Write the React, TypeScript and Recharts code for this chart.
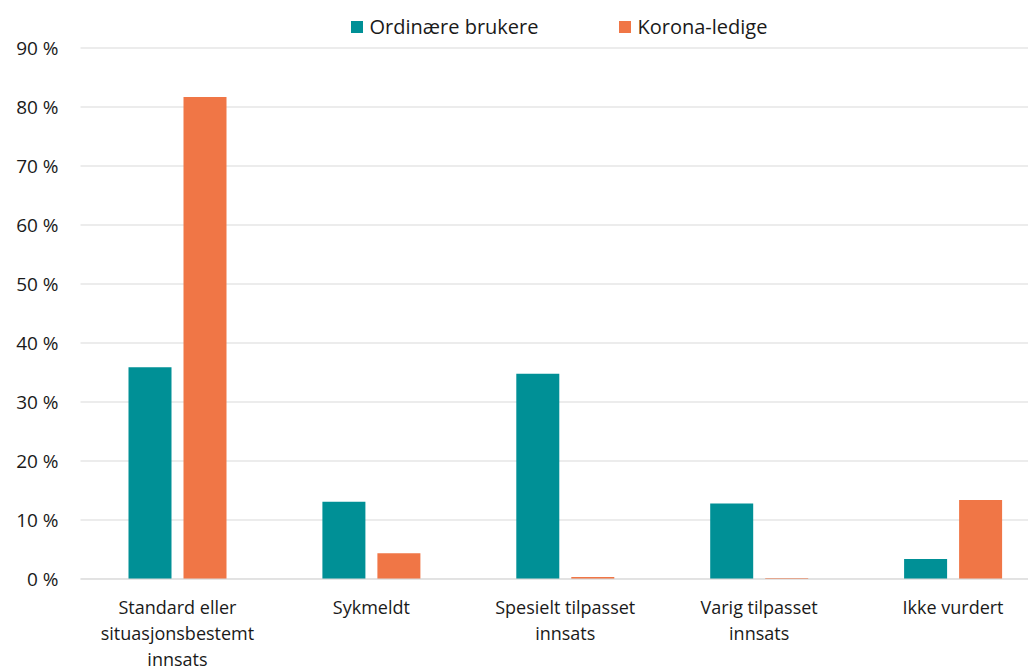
import React from 'react';
import { BarChart, Bar, XAxis, YAxis, CartesianGrid, Legend, Text } from 'recharts';

const categories = [
  'Standard eller situasjonsbestemt innsats',
  'Sykmeldt',
  'Spesielt tilpasset innsats',
  'Varig tilpasset innsats',
  'Ikke vurdert',
];
const ordinaere = [35.9, 13.1, 34.8, 12.8, 3.4];
const korona = [81.7, 4.35, 0.35, 0.15, 13.4];
const yTicks = [0, 10, 20, 30, 40, 50, 60, 70, 80, 90];
const seriesNames = ['Ordinære brukere', 'Korona-ledige'];
const seriesColors = ['#009096', '#F07646'];

const data = categories.map((c, i) => ({ name: c, ord: ordinaere[i], kor: korona[i] }));

const FONT = '"Open Sans", sans-serif';

const XTick = (props: any) => {
  const { x, y, payload } = props;
  return (
    <Text
      x={x}
      y={y + 14}
      width={160}
      textAnchor="middle"
      verticalAnchor="start"
      lineHeight={26}
      fontSize={18}
      fontFamily={FONT}
      style={{ fontSize: 18, fontFamily: FONT }}
      fill="#1a1a1a"
    >
      {payload.value}
    </Text>
  );
};

const LegendContent = () => (
  <div style={{ display: 'flex', justifyContent: 'center', paddingLeft: 60, fontFamily: FONT, fontSize: 20, color: '#1a1a1a', lineHeight: '26px' }}>
    {seriesNames.map((n, i) => (
      <div key={n} style={{ display: 'flex', alignItems: 'center', marginRight: i === 0 ? 80 : 0 }}>
        <span style={{ display: 'inline-block', width: 12, height: 12, background: seriesColors[i], marginRight: 7 }} />
        <span>{n}</span>
      </div>
    ))}
  </div>
);

export default function App() {
  return (
    <div style={{ width: 1028, height: 663, overflow: 'hidden' }}>
      <BarChart
        width={1054}
        height={663}
        data={data}
        margin={{ top: 14, right: 12, bottom: 0, left: 0 }}
        barSize={43}
        barGap={12}
      >
        <CartesianGrid vertical={false} stroke="#d9d9d9" />
        <XAxis
          dataKey="name"
          tick={<XTick />}
          tickLine={false}
          axisLine={{ stroke: '#d9d9d9' }}
          height={92}
          interval={0}
        />
        <YAxis
          width={72.5}
          domain={[0, 90]}
          ticks={yTicks}
          tickFormatter={(v: number) => `${v} %`}
          tickLine={false}
          axisLine={false}
          tickMargin={16}
          tick={{ fontSize: 19, fontFamily: FONT, fill: '#1a1a1a' }}
        />
        <Legend verticalAlign="top" align="center" content={<LegendContent />} wrapperStyle={{ top: 6 }} />
        <Bar dataKey="ord" name={seriesNames[0]} fill={seriesColors[0]} isAnimationActive={false} />
        <Bar dataKey="kor" name={seriesNames[1]} fill={seriesColors[1]} isAnimationActive={false} />
      </BarChart>
    </div>
  );
}
